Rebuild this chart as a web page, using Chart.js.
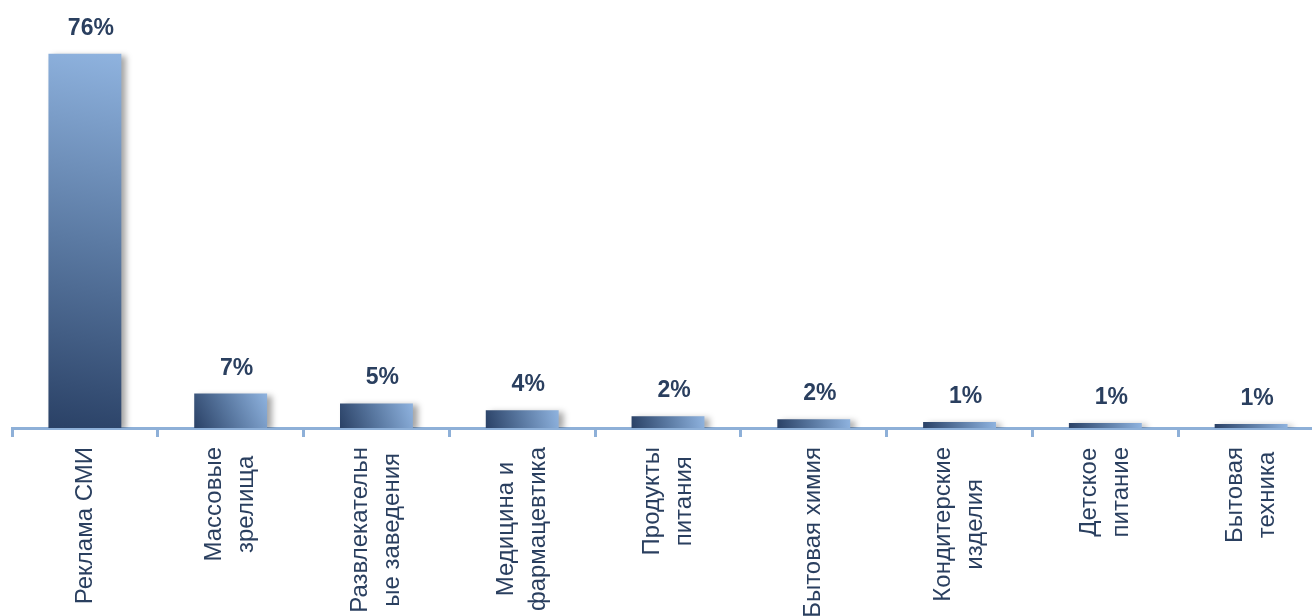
<!DOCTYPE html>
<html lang="ru">
<head>
    <meta charset="UTF-8">
    <title>Структура рынка</title>
    <script src="https://cdn.jsdelivr.net/npm/chart.js"></script>
    <style>
        html, body {
            margin: 0;
            padding: 0;
            background: #ffffff;
            overflow: hidden;
        }
        .chart-wrapper {
            position: relative;
            width: 1324px;
            height: 616px;
        }
    </style>
</head>
<body>
<div class="chart-wrapper">
    <canvas id="myChart"></canvas>
</div>

<script>
    const categories = [
        "Реклама СМИ",
        ["Массовые", "зрелища"],
        ["Развлекательн", "ые заведения"],
        ["Медицина и", "фармацевтика"],
        ["Продукты", "питания"],
        "Бытовая химия",
        ["Кондитерские", "изделия"],
        ["Детское", "питание"],
        ["Бытовая", "техника"]
    ];
    const shares = [76, 7, 5, 3.6, 2.4, 1.8, 1.2, 1.0, 0.8];

    const axisColor = '#8eb0d8';
    const textColor = '#2a3f5f';
    const fontFamily = '"Liberation Sans", Arial, sans-serif';

    // diagonal gradient from bottom-left to top-right of each bar
    function barGradient(context) {
        const chart = context.chart;
        const area = chart.chartArea;
        if (!area) return '#6f8fb8';
        const xs = chart.scales.x;
        const ys = chart.scales.y;
        const i = context.dataIndex;
        const cx = xs.getPixelForValue(i);
        const half = xs.width / categories.length * 0.5 / 2;
        const top = ys.getPixelForValue(shares[i]);
        const base = ys.getPixelForValue(0);
        const g = chart.ctx.createLinearGradient(cx - half, base, cx + half, top);
        g.addColorStop(0, '#2a4166');
        g.addColorStop(0.5, '#5b7aa3');
        g.addColorStop(1, '#8fb3df');
        return g;
    }

    const shadowPlugin = {
        id: 'barShadow',
        beforeDatasetsDraw(chart) {
            const c = chart.ctx;
            c.save();
            c.shadowColor = 'rgba(0, 0, 0, 0.35)';
            c.shadowBlur = 6;
            c.shadowOffsetX = 5;
            c.shadowOffsetY = 2;
        },
        afterDatasetsDraw(chart) {
            chart.ctx.restore();
        }
    };

    const valueLabels = {
        id: 'valueLabels',
        afterDatasetsDraw(chart) {
            const c = chart.ctx;
            const meta = chart.getDatasetMeta(0);
            c.save();
            c.font = 'bold 23px ' + fontFamily;
            c.fillStyle = textColor;
            c.textAlign = 'center';
            c.textBaseline = 'alphabetic';
            meta.data.forEach((bar, i) => {
                c.fillText(Math.round(shares[i]) + '%', bar.x + 6, bar.y - 19);
            });
            c.restore();
        }
    };

    // rotated category labels, lines centred on each other (like the original)
    const categoryLabels = {
        id: 'categoryLabels',
        afterDraw(chart) {
            const c = chart.ctx;
            const xs = chart.scales.x;
            c.save();
            c.font = '24px ' + fontFamily;
            c.fillStyle = textColor;
            c.textAlign = 'center';
            c.textBaseline = 'middle';
            categories.forEach((lab, i) => {
                const lines = Array.isArray(lab) ? lab : [lab];
                const longest = Math.max(...lines.map(l => c.measureText(l).width));
                const x = xs.getPixelForValue(i);
                c.save();
                c.translate(x, xs.top + 19 + longest / 2);
                c.rotate(-Math.PI / 2);
                lines.forEach((l, k) => {
                    c.fillText(l, 0, (k - (lines.length - 1) / 2) * 32);
                });
                c.restore();
            });
            c.restore();
        }
    };

    const config = {
        type: 'bar',
        data: {
            labels: categories,
            datasets: [{
                data: shares,
                backgroundColor: barGradient,
                borderWidth: 0,
                categoryPercentage: 1,
                barPercentage: 0.5
            }]
        },
        options: {
            responsive: true,
            maintainAspectRatio: false,
            animation: false,
            layout: {
                padding: { left: 12, top: 34, right: 0, bottom: 0 }
            },
            plugins: {
                legend: { display: false },
                tooltip: { enabled: false }
            },
            scales: {
                x: {
                    offset: true,
                    afterFit: (scale) => { scale.height = 188; },
                    border: { color: axisColor, width: 3 },
                    grid: {
                        offset: true,
                        drawOnChartArea: false,
                        drawTicks: true,
                        tickLength: 9,
                        tickWidth: 3,
                        tickColor: axisColor
                    },
                    ticks: {
                        display: false,
                        autoSkip: false
                    }
                },
                y: {
                    display: false,
                    min: 0,
                    max: 80
                }
            }
        },
        plugins: [shadowPlugin, valueLabels, categoryLabels]
    };

    const myChart = new Chart(document.getElementById('myChart'), config);
</script>
</body>
</html>
